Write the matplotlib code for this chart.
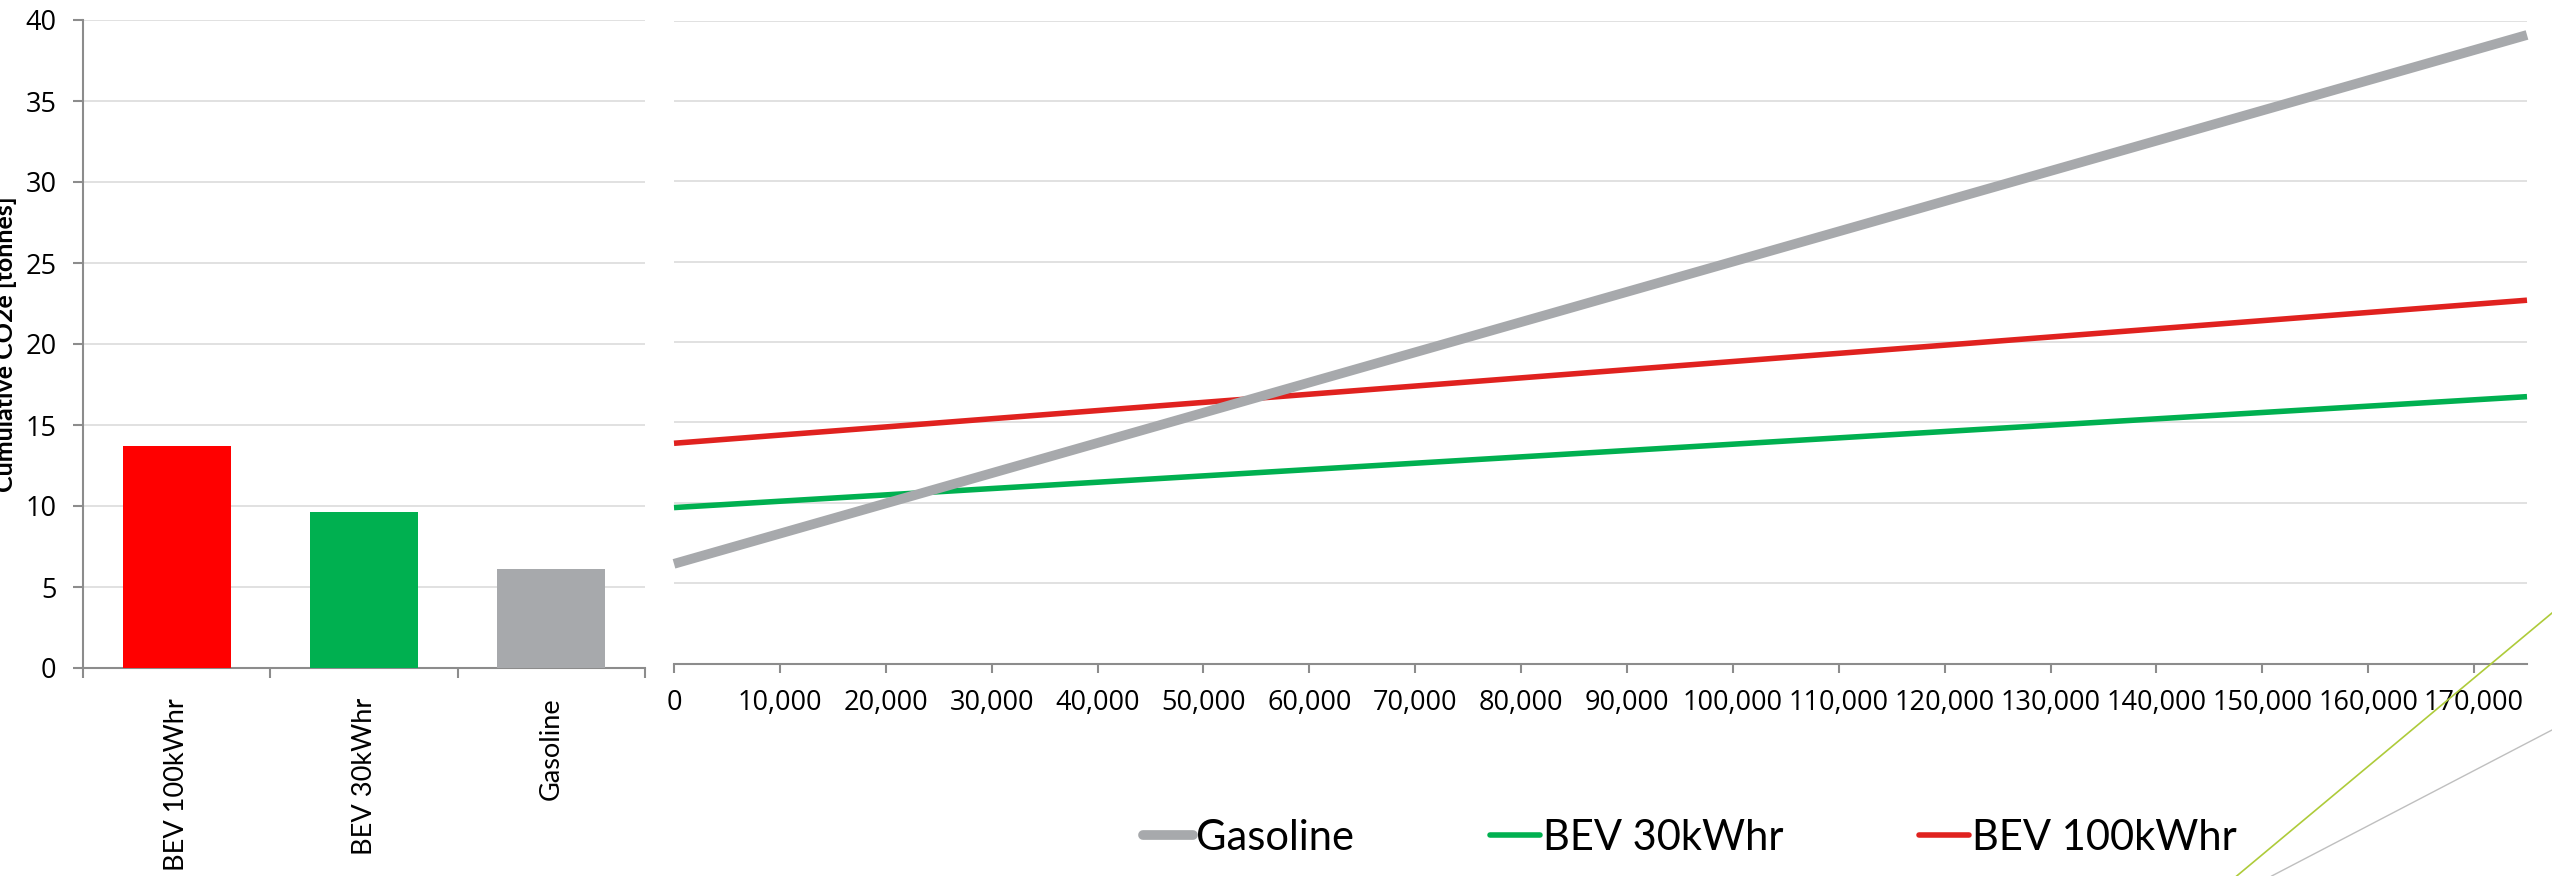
import matplotlib
matplotlib.use("Agg")
import matplotlib.pyplot as plt
from matplotlib.lines import Line2D
from matplotlib.ticker import FuncFormatter

# ---------------- data ----------------
categories = ["BEV 100kWhr", "BEV 30kWhr", "Gasoline"]
embodied_tonnes = [13.7, 9.6, 6.1]

distance_km = [0, 175000]
gasoline_tonnes = [6.2, 39.1]
bev30_tonnes = [9.7, 16.6]
bev100_tonnes = [13.7, 22.6]

series_names = ["Gasoline", "BEV 30kWhr", "BEV 100kWhr"]
xtick_values = list(range(0, 170001, 10000))
ytick_values = list(range(0, 41, 5))
y_label = "Cumulative CO2e [tonnes]"

# ---------------- style ----------------
bar_colors = ["#FF0000", "#00B050", "#A7A9AC"]
line_colors = {"Gasoline": "#A7A9AC", "BEV 30kWhr": "#00B050", "BEV 100kWhr": "#E0221F"}
line_widths = {"Gasoline": 7.0, "BEV 30kWhr": 4.0, "BEV 100kWhr": 4.0}
grid_color = "#D9D9D9"
axis_color = "#8C8C8C"
tick_font = "Open Sans"
label_font = ["Lato", "DejaVu Sans"]

W, H = 2552, 876
fig = plt.figure(figsize=(W / 100, H / 100), dpi=100)


def rect(l, t, r, b):
    return [l / W, 1 - b / H, (r - l) / W, (b - t) / H]


# ---------------- left: bar chart ----------------
ax1 = fig.add_axes(rect(83, 20, 645, 668))
xpos = [i + 0.5 for i in range(len(categories))]
ax1.bar(xpos, embodied_tonnes, width=0.576, color=bar_colors, zorder=3)
ax1.set_xlim(0, len(categories))
ax1.set_ylim(0, 40)
ax1.set_yticks(ytick_values)
ax1.set_yticklabels([str(v) for v in ytick_values], fontsize=19.5, family=tick_font)
ax1.yaxis.grid(True, color=grid_color, linewidth=1.1, zorder=0)
ax1.set_axisbelow(True)
for s in ["top", "right"]:
    ax1.spines[s].set_visible(False)
for s in ["left", "bottom"]:
    ax1.spines[s].set_color(axis_color)
    ax1.spines[s].set_linewidth(1.5)
ax1.set_xticks(range(len(categories) + 1))
ax1.set_xticklabels([])
ax1.set_xticks(xpos, minor=True)
ax1.set_xticklabels(categories, minor=True, rotation=90, fontsize=19.5,
                    family=label_font, va="top", ha="center")
ax1.tick_params(axis="x", which="minor", length=0, pad=21.5)
ax1.tick_params(axis="x", which="major", direction="out", length=7.2, width=1.5,
                color=axis_color)
ax1.tick_params(axis="y", direction="out", length=7.2, width=1.5, color=axis_color,
                pad=12)

# ---------------- right: line chart ----------------
ax2 = fig.add_axes(rect(674, 20.5, 2527, 663.5))
series = {"Gasoline": gasoline_tonnes, "BEV 30kWhr": bev30_tonnes,
          "BEV 100kWhr": bev100_tonnes}
for name in ["BEV 30kWhr", "BEV 100kWhr", "Gasoline"]:
    ax2.plot(distance_km, series[name], color=line_colors[name],
             linewidth=line_widths[name], solid_capstyle="butt", zorder=3,
             clip_on=False)
ax2.set_xlim(0, 175000)
ax2.set_ylim(0, 40)
ax2.set_yticks(ytick_values)
ax2.set_yticklabels([])
ax2.tick_params(axis="y", length=0)
ax2.yaxis.grid(True, color=grid_color, linewidth=1.1, zorder=0)
ax2.set_axisbelow(True)
for s in ["top", "right", "left"]:
    ax2.spines[s].set_visible(False)
ax2.spines["bottom"].set_color(axis_color)
ax2.spines["bottom"].set_linewidth(1.5)
ax2.set_xticks(xtick_values)
ax2.xaxis.set_major_formatter(FuncFormatter(lambda v, p: f"{int(v):,}"))
for lab in ax2.get_xticklabels():
    lab.set_family(tick_font)
ax2.tick_params(axis="x", direction="out", length=6.5, width=1.5, color=axis_color,
                labelsize=19.5, pad=12)

# ---------------- y label ----------------
fig.text(13 / W, 1 - 344.5 / H, y_label, rotation=90, rotation_mode="anchor",
         ha="center", va="baseline", fontsize=18, fontweight="bold", family=label_font)

# ---------------- legend ----------------
handles = [Line2D([0], [0], color=line_colors[n], linewidth=line_widths[n],
                  solid_capstyle="round") for n in series_names]
fig.legend(handles, series_names, loc="center", bbox_to_anchor=(1690 / W, 1 - 838 / H),
           ncol=3, frameon=False, handlelength=1.2, handletextpad=0.08,
           columnspacing=3.25, borderpad=0, prop={"family": label_font, "size": 30})

# ---------------- decorative slide lines ----------------
fig.add_artist(Line2D([2236.7 / W, 1.0], [0, 1 - 613 / H], color="#AECB3A",
                      linewidth=1.2, transform=fig.transFigure))
fig.add_artist(Line2D([2271.7 / W, 1.0], [0, 1 - 730 / H], color="#BFBFBF",
                      linewidth=1.0, transform=fig.transFigure))

fig.savefig("out.png", dpi=100)
